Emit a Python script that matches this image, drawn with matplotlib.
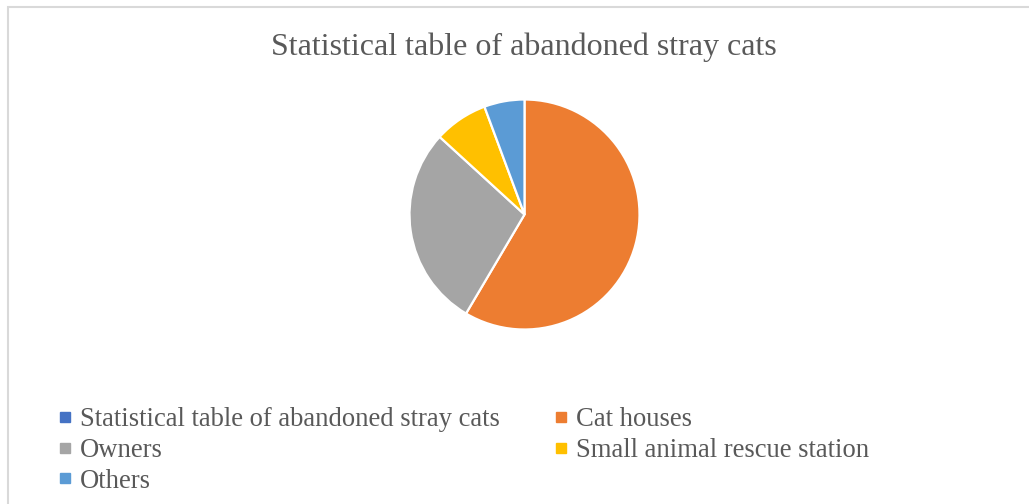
import matplotlib.pyplot as plt
from matplotlib.lines import Line2D
from matplotlib.patches import Rectangle

# ---------- DATA ----------
title = "Statistical table of abandoned stray cats"
labels = [
    "Statistical table of abandoned stray cats",
    "Cat houses",
    "Owners",
    "Small animal rescue station",
    "Others",
]
counts = [0, 62, 30, 8, 6]
colors = ["#4472C4", "#ED7D31", "#A5A5A5", "#FFC000", "#5B9BD5"]

# ---------- STYLE ----------
plt.rcParams["font.family"] = ["Liberation Serif", "DejaVu Serif"]
text_color = "#595959"

W, H = 1029, 504
fig = plt.figure(figsize=(W / 100, H / 100), dpi=100)

# chart frame
fig.patches.append(Rectangle((8 / W, -0.02), 1.0, 1 - 7 / H + 0.02,
                             transform=fig.transFigure, fill=False,
                             edgecolor="#D9D9D9", linewidth=1.5))

fig.text(524 / W, 1 - 47 / H, title, ha="center", va="center",
         fontsize=23, color=text_color)

# ---------- PIE ----------
cx, cy, r = 524.5, 214.5, 115
ax = fig.add_axes([(cx - r) / W, (H - cy - r) / H, 2 * r / W, 2 * r / H])
ax.pie(counts, colors=colors, startangle=90, counterclock=False,
       wedgeprops=dict(edgecolor="white", linewidth=1.6))
ax.set_xlim(-1, 1)
ax.set_ylim(-1, 1)
ax.set_aspect("auto")

# ---------- LEGEND ----------
handles = [Line2D([], [], marker="s", linestyle="none", markersize=6.5,
                  markerfacecolor=c, markeredgecolor=c) for c in colors]
order = [0, 2, 4, 1, 3]  # row-wise order like the original
fig.legend([handles[i] for i in order], [labels[i] for i in order],
           loc="upper left", bbox_to_anchor=(60 / W, 1 - 407 / H),
           ncol=2, frameon=False, fontsize=19.2, labelcolor=text_color,
           handlelength=0.4, handletextpad=0.35, labelspacing=0.22,
           columnspacing=2.1, borderpad=0, borderaxespad=0)

fig.savefig("out.png", dpi=100)
